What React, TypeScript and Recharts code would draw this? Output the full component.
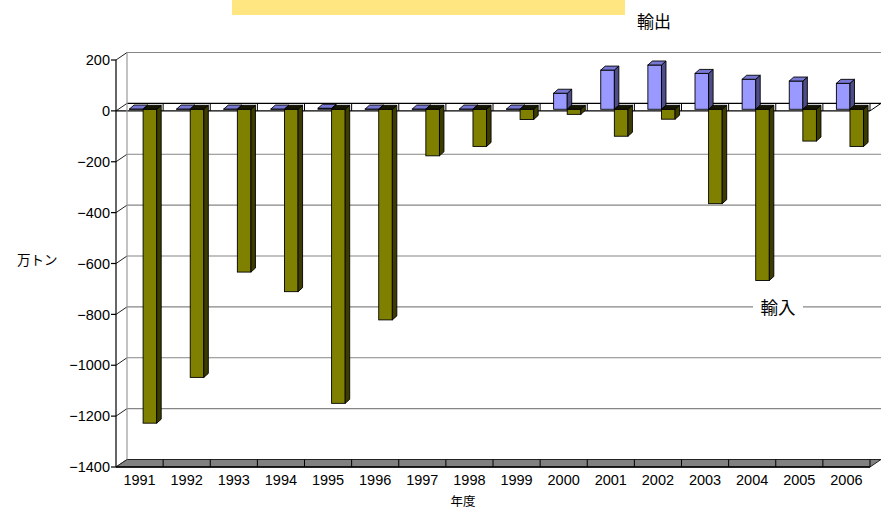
import React from 'react';
import { BarChart, Bar, XAxis, YAxis, CartesianGrid } from 'recharts';

// Fiscal years on the category axis
const years = [
  '1991', '1992', '1993', '1994', '1995', '1996', '1997', '1998',
  '1999', '2000', '2001', '2002', '2003', '2004', '2005', '2006',
];

// 輸出 (exports), 万トン
const exportsVol = [1, 1, 1, 1, 4, 1, 1, 1, 1, 63, 154, 174, 141, 118, 111, 102];

// 輸入 (imports, shown as negative), 万トン
const importsVol = [
  -1234, -1054, -640, -717, -1156, -828, -183, -146,
  -40, -20, -106, -39, -371, -673, -125, -146,
];

const yTicks = [-1400, -1200, -1000, -800, -600, -400, -200, 0, 200];

const data = years.map((year, i) => ({ year, exp: exportsVol[i], imp: importsVol[i] }));

// Layout
const W = 882;
const H = 513;
const MARGIN = { top: 60, right: 12, bottom: 16, left: 0 };
const Y_AXIS_W = 116;
const X_AXIS_H = 30;
const PLOT_TOP = MARGIN.top;
const PLOT_H = H - MARGIN.top - MARGIN.bottom - X_AXIS_H;
const Y_MIN = yTicks[0];
const Y_MAX = yTicks[yTicks.length - 1];
const PLOT_LEFT = MARGIN.left + Y_AXIS_W;

// Pseudo-3D projection: offset of the back wall and of a bar's depth
const DX = 11;
const DY = -7.5;
const BAR_DX = 4.5;
const BAR_DY = -4;
const BAR_SHIFT_X = 3.5;
const BAR_SHIFT_Y = -1.6;

const FONT = '"Liberation Sans", "Noto Sans CJK JP", sans-serif';
const CJK = '"Noto Sans CJK JP", sans-serif';

const valueAtY = (y: number) => Y_MAX - ((y - PLOT_TOP) / PLOT_H) * (Y_MAX - Y_MIN);

// Horizontal grid: back-wall lines, the zero plane and the floor
function renderHLine(p: any) {
  const { x1, x2, y1 } = p;
  const v = Math.round(valueAtY(y1) / 10) * 10;
  const n = years.length;
  const band = (x2 - x1) / n;
  const parts: React.ReactNode[] = [];
  parts.push(
    <line key="back" x1={x1 + DX} y1={y1 + DY} x2={x2 + DX} y2={y1 + DY}
      stroke={v === 0 ? '#000' : '#868686'} strokeWidth={1.2} />,
  );
  parts.push(
    <line key="diag" x1={x1} y1={y1} x2={x1 + DX} y2={y1 + DY} stroke="#222" strokeWidth={1} />,
  );
  if (v === 0) {
    parts.push(
      <line key="front0" x1={x1} y1={y1} x2={x2} y2={y1} stroke="#000" strokeWidth={1.2} />,
    );
    parts.push(
      <line key="rdiag0" x1={x2} y1={y1} x2={x2 + DX} y2={y1 + DY} stroke="#000" strokeWidth={1} />,
    );
    for (let i = 1; i <= n; i++) {
      const bx = x1 + band * i;
      parts.push(
        <line key={`sep0-${i}`} x1={bx} y1={y1 + DY} x2={bx} y2={y1} stroke="#000" strokeWidth={1} />,
      );
    }
  }
  if (v === Y_MIN) {
    parts.push(
      <polygon key="floor"
        points={`${x1},${y1} ${x2},${y1} ${x2 + DX},${y1 + DY} ${x1 + DX},${y1 + DY}`}
        fill="#808080" stroke="#222" strokeWidth={1} />,
    );
    parts.push(
      <line key="floorFront" x1={x1} y1={y1} x2={x2} y2={y1} stroke="#000" strokeWidth={1.5} />,
    );
    for (let i = 1; i <= n; i++) {
      const bx = x1 + band * i;
      parts.push(
        <line key={`sepf-${i}`} x1={bx} y1={y1 + DY} x2={bx} y2={y1} stroke="#000" strokeWidth={1} />,
      );
    }
  }
  return <g key={p.key}>{parts}</g>;
}

// Back-left edge of the wall
function renderVLine(p: any) {
  return (
    <line key={p.key} x1={p.x1 + DX} y1={p.y1 + DY} x2={p.x2 + DX} y2={p.y2 + DY}
      stroke="#9a9a9a" strokeWidth={1.2} />
  );
}

type BoxColors = { face: string; side: string; top: string };

function makeBox(colors: BoxColors) {
  return (p: any) => {
    const { x, y, width, height } = p;
    if (x == null || y == null) return <g />;
    const h = height || 0;
    const x0 = x + BAR_SHIFT_X;
    const ya = Math.min(y, y + h) + BAR_SHIFT_Y;
    const yb = Math.max(y, y + h) + BAR_SHIFT_Y;
    const w = width;
    return (
      <g>
        <rect x={x0} y={ya} width={w} height={Math.max(yb - ya, 0.01)}
          fill={colors.face} stroke="#000" strokeWidth={0.9} />
        <polygon
          points={`${x0 + w},${ya} ${x0 + w + BAR_DX},${ya + BAR_DY} ${x0 + w + BAR_DX},${yb + BAR_DY} ${x0 + w},${yb}`}
          fill={colors.side} stroke="#000" strokeWidth={0.9} strokeLinejoin="round" />
        <polygon
          points={`${x0},${ya} ${x0 + w},${ya} ${x0 + w + BAR_DX},${ya + BAR_DY} ${x0 + BAR_DX},${ya + BAR_DY}`}
          fill={colors.top} stroke="#000" strokeWidth={0.9} strokeLinejoin="round" />
      </g>
    );
  };
}

const exportBox = makeBox({ face: '#9999FF', side: '#4D4D88', top: '#7878D4' });
const importBox = makeBox({ face: '#808000', side: '#3C3C00', top: '#161600' });

const fmt = (v: number) => String(v).replace('-', '\u2212');

export default function App() {
  return (
    <div style={{ position: 'absolute', left: 0, top: 0, width: W, height: H, fontFamily: FONT, background: '#fff' }}>
      <BarChart width={W} height={H} data={data} margin={MARGIN} barGap={0}>
        <CartesianGrid
          horizontal={renderHLine}
          vertical={renderVLine}
          verticalPoints={[PLOT_LEFT]}
        />
        <XAxis
          dataKey="year"
          height={X_AXIS_H}
          axisLine={false}
          tickLine={false}
          tickSize={0}
          tickMargin={8}
          interval={0}
          tick={{ fontSize: 14.5, fill: '#000' }}
          label={{ value: '年度', position: 'bottom', offset: 0, dx: -30, style: { fontSize: 12.5, fill: '#000', fontFamily: CJK } }}
        />
        <YAxis
          width={Y_AXIS_W}
          domain={[Y_MIN, Y_MAX]}
          ticks={yTicks}
          interval={0}
          tickSize={5}
          tickMargin={1}
          tickFormatter={fmt}
          axisLine={{ stroke: '#000', strokeWidth: 1.2 }}
          tickLine={{ stroke: '#000', strokeWidth: 1.2 }}
          tick={{ fontSize: 14.5, fill: '#000' }}
          label={{ value: '万トン', position: 'insideLeft', offset: 17, angle: 0, dy: -3, style: { fontSize: 13.5, fill: '#000', fontFamily: CJK, textAnchor: 'start' } }}
        />
        <Bar dataKey="exp" name="輸出" barSize={13.6} shape={exportBox} isAnimationActive={false} />
        <Bar dataKey="imp" name="輸入" barSize={13.6} shape={importBox} isAnimationActive={false} />
      </BarChart>
      <svg width={W} height={H} style={{ position: 'absolute', left: 0, top: 0, pointerEvents: 'none' }}>
        <rect x={232} y={0} width={393} height={15} fill="#FFE680" />
        <text x={654} y={20} textAnchor="middle" dominantBaseline="central"
          style={{ fontFamily: CJK, fontSize: 17, fill: '#000' }}>輸出</text>
        <rect x={753} y={297} width={50} height={19} fill="#fff" />
        <text x={778} y={306.5} textAnchor="middle" dominantBaseline="central"
          style={{ fontFamily: CJK, fontSize: 17.5, fill: '#000' }}>輸入</text>
      </svg>
    </div>
  );
}
